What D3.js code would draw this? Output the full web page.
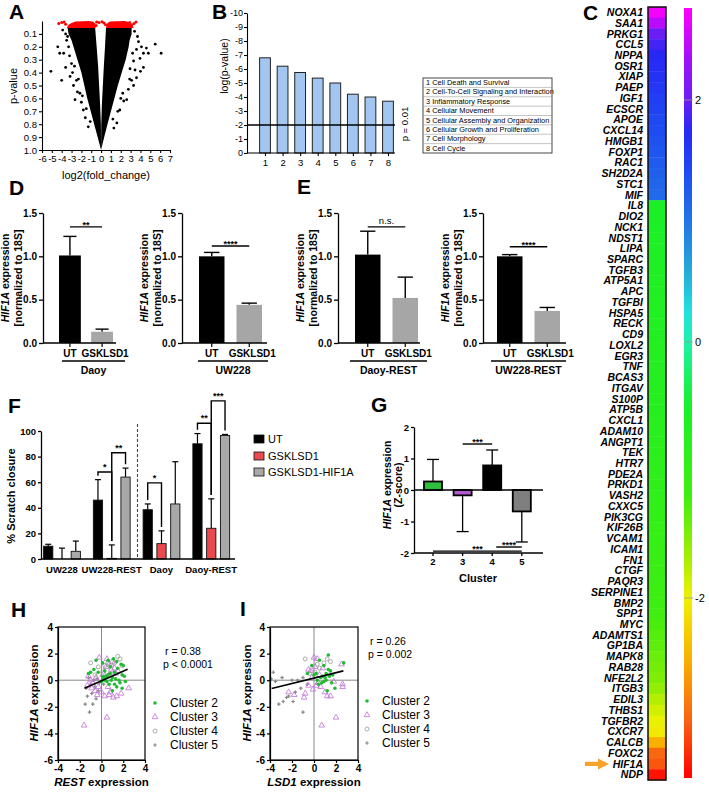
<!DOCTYPE html>
<html><head><meta charset="utf-8">
<script src="https://cdn.jsdelivr.net/npm/d3@7"></script>
<style>body{margin:0;background:#fff}svg{display:block}text{font-family:'Liberation Sans',Arial,Helvetica,sans-serif}</style>
</head><body><svg id="c" width="709" height="792"></svg>
<script>
// ---------------- DATA ----------------
// A: volcano (dense wedge envelopes as [p, log2FC], scattered points as [log2FC, p])
const volcOuterL = [[0.055,-3.4],[0.1,-3.3],[0.15,-3.0],[0.2,-2.8],[0.3,-2.4],[0.4,-2.0],[0.5,-1.7],[0.6,-1.4],[0.7,-1.05],[0.8,-0.7],[0.9,-0.35],[1.0,0]];
const volcInnerL = [[0.055,-0.6],[0.2,-0.45],[0.35,-0.3],[0.5,-0.2],[0.65,-0.1],[0.8,-0.02]];
const volcOuterR = [[0.055,3.1],[0.1,3.1],[0.15,2.9],[0.2,2.8],[0.3,2.5],[0.4,2.1],[0.5,1.7],[0.6,1.35],[0.7,1.0],[0.8,0.65],[0.9,0.32],[1.0,0]];
const volcInnerR = [[0.055,0.5],[0.2,0.4],[0.35,0.28],[0.5,0.18],[0.65,0.08],[0.8,0.02]];
const volcRedL = [[-3.5,0.055],[-3.3,0.03],[-3.0,0.015],[-2.6,0.003],[-1.2,0.0],[-0.8,0.005],[-0.6,0.02],[-0.55,0.055]];
const volcRedR = [[0.5,0.055],[0.6,0.02],[0.9,0.003],[2.4,0.0],[2.8,0.01],[3.2,0.03],[3.3,0.055]];
const volcBlack = [[-5.1,0.39],[-4.4,0.2],[-4.2,0.25],[-4.0,0.46],[-3.8,0.25],[-3.6,0.36],[-3.5,0.15],[-3.3,0.2],[-3.0,0.33],[-3.15,0.43],[-2.8,0.5],[-2.65,0.61],[-2.5,0.46],[-2.15,0.56],[-1.8,0.69],[-3.6,0.1],[-3.2,0.27],[-2.9,0.4],[-2.4,0.55],[-2.0,0.63],[-1.6,0.75],[-1.3,0.82],[-3.9,0.07],[-3.4,0.12],[-2.7,0.35],[-2.3,0.45],[-1.9,0.58],[-1.5,0.68],[-1.1,0.78],
  [5.5,0.18],[6.1,0.25],[4.6,0.21],[4.8,0.25],[4.3,0.25],[3.8,0.16],[3.95,0.29],[3.45,0.38],[3.1,0.46],[2.77,0.53],[2.94,0.37],[2.6,0.61],[2.4,0.1],[3.6,0.22],[3.3,0.31],[4.3,0.36],[4.0,0.39],[1.9,0.69],[1.6,0.79],[3.4,0.08],[3.7,0.12],[4.1,0.2],[3.2,0.25],[2.9,0.45],[2.3,0.62],[2.2,0.56],[1.3,0.83],[3.6,0.44],[3.3,0.5],[2.0,0.6],[1.7,0.7],[1.2,0.76]];
const volcRed = [[-4.3,0.02],[-4.0,0.012],[-3.75,0.008],[-3.6,0.025],[-0.45,0.008],[-0.2,0.012],[0.1,0.006],[0.3,0.015],[3.35,0.02],[3.55,0.008],[-0.5,0.035],[0.45,0.03],[2.9,0.012],[3.1,0.03]];
const aXTicks = [-6,-5,-4,-3,-2,-1,0,1,2,3,4,5,6,7];
const aYTicks = [0.1,0.2,0.3,0.4,0.5,0.6,0.7,0.8,0.9,1.0];

// B
const bCats = [1,2,3,4,5,6,7,8];
const bValues = [6.8,6.2,5.75,5.35,5.0,4.2,4.0,3.7];
const bThreshold = 2;
const bTerms = ['1 Cell Death and Survival','2 Cell-To-Cell Signaling and Interaction','3 Inflammatory Response','4 Cellular Movement','5 Cellular Assembly and Organization','6 Cellular Growth and Proliferation','7 Cell Morphology','8 Cell Cycle'];

// C
const cGenes = ['NOXA1','SAA1','PRKG1','CCL5','NPPA','OSR1','XIAP','PAEP','IGF1','ECSCR','APOE','CXCL14','HMGB1','FOXP1','RAC1','SH2D2A','STC1','MIF',
 'IL8','DIO2','NCK1','NDST1','LIPA','SPARC','TGFB3','ATP5A1','APC','TGFBI','HSPA5','RECK','CD9','LOXL2','EGR3','TNF','BCAS3','ITGAV','S100P',
 'ATP5B','CXCL1','ADAM10','ANGPT1','TEK','HTR7','PDE2A','PRKD1','VASH2','CXXC5','PIK3CG','KIF26B','VCAM1','ICAM1','FN1','CTGF','PAQR3','SERPINE1','BMP2','SPP1',
 'MYC','ADAMTS1','GP1BA','MAPK8','RAB28','NFE2L2','ITGB3','EDIL3','THBS1','TGFBR2','CXCR7','CALCB','FOXC2','HIF1A','NDP'];
const cValues = [2.65,2.4,2.0,1.85,1.75,1.7,1.65,1.6,1.55,1.5,1.45,1.4,1.35,1.3,1.25,1.2,1.15,1.1,
 -0.55,-0.56,-0.57,-0.58,-0.6,-0.6,-0.62,-0.63,-0.64,-0.65,-0.66,-0.67,-0.68,-0.7,-0.71,-0.72,-0.73,-0.74,-0.75,
 -0.77,-0.78,-0.8,-0.82,-0.84,-0.86,-0.88,-0.9,-0.92,-0.95,-0.97,-1.0,-1.02,-1.05,-1.08,-1.1,-1.12,-1.15,-1.18,-1.2,
 -1.25,-1.3,-1.35,-1.4,-1.45,-1.5,-1.6,-1.75,-1.88,-1.97,-2.05,-2.5,-2.95,-3.05,-3.4];
const cMarked = 'HIF1A';
const cmapVals = [2.7,2.3,2.0,1.75,1.4,1.0,0.6,0.25,0,-0.5,-1.2,-1.7,-2.0,-2.5,-3.0,-3.5];
const cmapCols = ['#ff00ff','#a010f8','#6a1ef5','#2828f5','#1e4cf2','#2274e6','#26a8d8','#22e0e0','#20f0a8','#18f028','#40ee10','#a8ee00','#f0f000','#f8b000','#f86010','#ff0000'];
const cbTicks = [2,0,-2];

// D / E
const exprCats = ['UT','GSKLSD1'];
const dDaoy = [1.01,0.13], dDaoyErr = [0.22,0.03];
const dUW228 = [1.0,0.44], dUW228Err = [0.045,0.02];
const eDaoyREST = [1.02,0.52], eDaoyRESTErr = [0.27,0.24];
const eUW228REST = [1.0,0.37], eUW228RESTErr = [0.02,0.04];
const exprTicks = [0,0.5,1.0,1.5];

// F
const fGroups = ['UW228','UW228-REST','Daoy','Daoy-REST'];
const fSeries = ['UT','GSKLSD1','GSKLSD1-HIF1A'];
const fUT = [10,46,38.5,90], fUTErr = [1.5,16,4.5,8];
const fGSK = [0,0.5,12,24], fGSKErr = [8.5,10.5,10,23];
const fHIF = [6,64,43,96.5], fHIFErr = [8,7,33,0.8];
const fSig = [
  {g:'UW228-REST',a:'UT',b:'GSKLSD1',h:68,label:'*'},
  {g:'UW228-REST',a:'GSKLSD1',b:'GSKLSD1-HIF1A',h:83,label:'**'},
  {g:'Daoy',a:'UT',b:'GSKLSD1',h:59.5,label:'*'},
  {g:'Daoy-REST',a:'UT',b:'GSKLSD1',h:106,label:'**'},
  {g:'Daoy-REST',a:'GSKLSD1',b:'GSKLSD1-HIF1A',h:123.5,label:'***'}];
const fTicks = [0,20,40,60,80,100];

// G
const gClusters = ['2','3','4','5'];
const gMeans = [0.27,-0.17,0.78,-0.68];
const gErr = [0.7,1.15,0.49,0.97];
const gSig = [{a:'3',b:'4',y:1.46,label:'***'},{a:'4',b:'5',y:-1.81,label:'****'},{a:'2',b:'5',y:-1.94,label:'***'}];
const gTicks = [-2,-1,0,1,2];

// H / I scatter
const hC2 = [[0.2,0.1],[0.4,0.3],[0.5,0.2],[0.6,0.4],[0.3,0.0],[0.8,0.5],[1.0,0.2],[1.2,0.6],[1.5,0.9],[1.8,1.2],[2.0,1.1],[1.9,0.4],[2.1,0.3],[1.7,-0.2],[1.4,-0.5],[1.0,-0.8],[0.7,-0.3],[0.5,-0.1],[0.9,0.0],[1.3,0.1],[1.6,0.0],[2.2,-0.1],[-0.3,0.6],[-0.7,0.8],[-1.0,0.6],[0.1,1.3],[0.6,1.5],[1.1,1.6],[1.4,1.4],[-0.5,1.5],[0.3,0.7],[0.15,0.25],[0.35,0.15],[0.0,-0.1],[1.2,-0.3],[1.9,-0.6],[0.8,1.0],[-1.2,0.5]];
const hC3 = [[-1.6,-3.4],[0.5,-2.8],[1.4,-1.2],[1.8,-1.0],[2.5,-0.6],[1.1,-1.3],[0.7,-1.1],[0.3,-1.2],[0.0,-0.9],[-0.3,-0.5],[-0.8,-0.2],[-1.0,0.0],[-1.2,0.3],[-0.5,0.2],[0.2,0.5],[0.4,1.0],[0.7,1.2],[0.9,0.8],[1.3,0.5],[1.0,1.4],[0.5,1.6],[-0.2,1.7],[-0.6,-0.8],[-0.4,-1.1],[0.6,-0.5],[0.8,-0.9],[1.2,0.9],[1.5,0.7],[-1.3,-0.4],[-0.9,-0.6]];
const hC4 = [[-1.0,1.3],[0.6,1.3],[1.7,1.6],[1.2,1.3],[0.3,1.1],[-0.3,1.0],[0.9,1.1],[1.9,1.1],[0.1,0.6],[-0.6,0.4],[1.5,1.8],[0.8,0.5]];
const hC5 = [[-1.5,-1.8],[-1.1,-2.4],[-0.8,-1.8],[-1.3,-1.2],[-0.9,-1.0],[-0.6,-0.5],[-1.0,-0.3],[-0.4,0.1],[-0.2,-0.2],[0.0,0.3],[-1.4,-0.6],[-0.7,0.0],[-0.3,-0.8],[0.2,-0.3],[-1.2,0.2],[-0.5,-1.4]];
const hFit = [[-1.56,-0.6],[2.4,0.83]];
const hStats = ['r = 0.38','p < 0.0001'];
const iC2 = [[1.3,1.9],[2.7,1.3],[0.5,1.5],[0.9,1.1],[1.1,0.5],[1.4,0.3],[1.6,-0.2],[1.2,-0.8],[1.9,-0.6],[0.3,0.0],[0.6,0.2],[0.8,0.3],[1.0,0.2],[0.2,0.5],[-0.2,1.1],[-0.6,0.5],[0.7,-0.2],[1.3,0.8],[1.5,0.7],[0.4,-0.3],[1.1,0.0],[1.7,0.4],[0.0,0.4],[0.9,-0.1]];
const iC3 = [[-2.3,-0.9],[-1.8,-1.1],[-0.9,-1.3],[-0.8,-1.0],[-0.5,-0.4],[-0.3,0.7],[-0.5,0.8],[-0.2,0.2],[0.0,1.7],[0.3,1.6],[0.2,-0.4],[0.4,-0.2],[0.7,-3.4],[2.0,-2.8],[1.2,-1.2],[1.5,-1.2],[2.6,-0.5],[2.6,-0.3],[0.8,0.9],[1.0,-0.9],[0.6,-0.5],[-0.1,-0.7],[1.8,-0.1],[2.5,1.2],[0.5,0.4],[0.1,1.0]];
const iC4 = [[-0.8,1.6],[0.1,0.6],[1.2,1.6],[1.5,1.4],[0.5,0.9],[-0.4,0.5],[0.9,1.3],[0.3,1.2]];
const iC5 = [[-3.9,0.1],[-3.7,0.6],[-3.2,-1.8],[-2.8,-1.6],[-2.5,-1.3],[-2.3,-1.2],[-1.9,-1.6],[-1.7,-0.9],[-1.0,-2.4],[-1.2,-0.6],[-2.0,0.0],[-1.5,0.0],[-2.9,0.2],[-1.0,0.2],[-0.6,-0.3],[-3.5,-0.1]];
const iFit = [[-3.85,-0.63],[2.67,0.7]];
const iStats = ['r = 0.26','p = 0.002'];
const scatTicksX = [-4,-2,0,2,4];
const scatTicksY = [-6,-4,-2,0,2,4];
const clusterNames = ['Cluster 2','Cluster 3','Cluster 4','Cluster 5'];

// ---------------- DRAWING ----------------
const FONT = "'Liberation Sans', Arial, Helvetica, sans-serif";
const svg = d3.select('#c');

function txt(g, x, y, s, o = {}) {
  const t = g.append('text').attr('x', x).attr('y', y).attr('font-size', o.size || 10)
    .attr('font-weight', o.bold ? 'bold' : 'normal').attr('text-anchor', o.anchor || 'start')
    .attr('fill', o.fill || '#000');
  if (o.italic) t.attr('font-style', 'italic');
  if (o.rotate) t.attr('transform', `rotate(-90,${x},${y})`);
  if (Array.isArray(s)) s.forEach(([str, it]) => t.append('tspan').attr('font-style', it ? 'italic' : 'normal').text(str));
  else t.text(s);
  return t;
}
function styleAxis(sel, size, bold, sw) {
  sel.attr('font-family', FONT);
  sel.selectAll('text').attr('font-size', size).attr('font-weight', bold ? 'bold' : 'normal').attr('fill', '#000');
  sel.selectAll('path,line').attr('stroke', '#000').attr('stroke-width', sw || 1.1);
}
function letter(x, y, s) { txt(svg, x, y, s, {size: 21, bold: true}); }

// ---- Panel A ----
(function () {
  const g = svg.append('g');
  const x = d3.scaleLinear().domain([-6, 7]).range([42, 170]);
  const y = d3.scaleLinear().domain([0, 1]).range([21, 150]);
  const arm = d3.line().x(d => x(d[1])).y(d => y(d[0]));
  g.append('path').attr('d', arm(volcOuterL.concat(volcInnerL.slice().reverse())) + 'Z').attr('fill', '#000');
  g.append('path').attr('d', arm(volcOuterR.concat(volcInnerR.slice().reverse())) + 'Z').attr('fill', '#000');
  g.selectAll('.vb').data(volcBlack).enter().append('circle').attr('cx', d => x(d[0])).attr('cy', d => y(d[1])).attr('r', 1.4).attr('fill', '#000');
  const cap = d3.line().x(d => x(d[0])).y(d => y(d[1]));
  g.append('path').attr('d', cap(volcRedL) + 'Z').attr('fill', '#f00');
  g.append('path').attr('d', cap(volcRedR) + 'Z').attr('fill', '#f00');
  g.selectAll('.vr').data(volcRed).enter().append('circle').attr('cx', d => x(d[0])).attr('cy', d => y(d[1])).attr('r', 1.5).attr('fill', '#f00');
  const ya = g.append('g').attr('transform', 'translate(42,0)')
    .call(d3.axisLeft(y).tickValues(aYTicks).tickFormat(d3.format('.1f')).tickSize(3).tickSizeOuter(0).tickPadding(2));
  styleAxis(ya, 9.5, false);
  const xa = g.append('g').attr('transform', 'translate(0,150)')
    .call(d3.axisBottom(x).tickValues(aXTicks).tickFormat(d => String(d)).tickSize(3).tickSizeOuter(0).tickPadding(2));
  styleAxis(xa, 9.5, false);
  txt(g, 17, 86, 'p-value', {size: 11, anchor: 'middle', rotate: true});
  txt(g, 106, 179, 'log2(fold_change)', {size: 11, anchor: 'middle'});
  letter(9, 19, 'A');
})();

// ---- Panel B ----
(function () {
  const g = svg.append('g');
  const x = d3.scalePoint().domain(bCats).range([265, 388]);
  const y = d3.scaleLinear().domain([0, 10]).range([153, 13]);
  const bw = 10.8;
  g.selectAll('.bb').data(bValues).enter().append('rect')
    .attr('x', (d, i) => x(bCats[i]) - bw / 2).attr('y', d => y(d)).attr('width', bw).attr('height', d => y(0) - y(d))
    .attr('fill', '#a3c6f0').attr('stroke', '#222').attr('stroke-width', 1);
  const ya = g.append('g').attr('transform', 'translate(247,0)')
    .call(d3.axisLeft(y).tickValues(d3.range(0, 11)).tickFormat(d => d ? '-' + d : '0').tickSize(3).tickSizeOuter(0).tickPadding(1));
  styleAxis(ya, 9, false);
  g.append('line').attr('x1', 247).attr('x2', 395).attr('y1', y(0)).attr('y2', y(0)).attr('stroke', '#000').attr('stroke-width', 1.1);
  const xa = g.append('g').attr('transform', `translate(0,${y(0)})`)
    .call(d3.axisBottom(x).tickSize(3).tickSizeOuter(0).tickPadding(3));
  xa.select('.domain').remove();
  styleAxis(xa, 9.5, false);
  g.append('line').attr('x1', 247).attr('x2', 395).attr('y1', y(bThreshold)).attr('y2', y(bThreshold)).attr('stroke', '#000').attr('stroke-width', 1.5);
  txt(g, 408, 124, 'p = 0.01', {size: 9.5, anchor: 'middle', rotate: true});
  txt(g, 228, 66, 'log(p-value)', {size: 10.5, anchor: 'middle', rotate: true});
  // legend table
  const tx = 423, ty = 78, tw = 129, rh = 75 / bTerms.length;
  g.append('rect').attr('x', tx).attr('y', ty).attr('width', tw).attr('height', rh * bTerms.length).attr('fill', 'none').attr('stroke', '#333').attr('stroke-width', 0.9);
  bTerms.forEach((t, i) => {
    if (i > 0) g.append('line').attr('x1', tx).attr('x2', tx + tw).attr('y1', ty + i * rh).attr('y2', ty + i * rh).attr('stroke', '#888').attr('stroke-width', 0.5);
    txt(g, tx + 3, ty + i * rh + rh - 2.3, t, {size: 7.4});
  });
  letter(212, 19, 'B');
})();

// ---- Panel C ----
(function () {
  const g = svg.append('g');
  const cmap = d3.scaleLinear().domain(cmapVals).range(cmapCols).interpolate(d3.interpolateRgb).clamp(true);
  const rows = d3.scaleBand().domain(cGenes).range([7, 780]);
  g.selectAll('.hm').data(cValues).enter().append('rect')
    .attr('x', 648).attr('width', 18).attr('y', (d, i) => rows(cGenes[i])).attr('height', rows.bandwidth() + 0.4)
    .attr('fill', d => cmap(d));
  g.append('rect').attr('x', 648).attr('y', 7).attr('width', 18).attr('height', 773).attr('fill', 'none').attr('stroke', '#111').attr('stroke-width', 1.5);
  cGenes.forEach((name, i) => {
    txt(g, 643, rows(name) + rows.bandwidth() / 2 + 3.7, name, {size: 10.5, bold: true, italic: true, anchor: 'end'});
  });
  // arrow at marked gene
  const ay = rows(cMarked) + rows.bandwidth() / 2;
  g.append('path').attr('d', `M585,${ay - 2.2}H598V${ay - 5.5}L609,${ay}L598,${ay + 5.5}V${ay + 2.2}H585Z`).attr('fill', '#f5a32a');
  // colorbar
  const cbY = d3.scaleLinear().domain([2.7, 2, 0, -2, -3.45]).range([8, 100, 342, 598, 778]);
  const grad = svg.append('defs').append('linearGradient').attr('id', 'cbg').attr('x1', 0).attr('y1', 0).attr('x2', 0).attr('y2', 1);
  cmapVals.forEach((v, i) => {
    const yy = cbY(Math.max(-3.45, v));
    grad.append('stop').attr('offset', (yy - 8) / 770).attr('stop-color', cmapCols[i]);
  });
  g.append('rect').attr('x', 684).attr('y', 8).attr('width', 8).attr('height', 770).attr('fill', 'url(#cbg)');
  cbTicks.forEach(t => {
    g.append('line').attr('x1', 684).attr('x2', 693).attr('y1', cbY(t)).attr('y2', cbY(t)).attr('stroke', '#999').attr('stroke-width', 0.8);
    txt(g, 695, cbY(t) + 4, String(t), {size: 11});
  });
  letter(583, 20, 'C');
})();

// ---- Panels D / E ----
function exprPanel(c) {
  const g = svg.append('g');
  const y = d3.scaleLinear().domain([0, 1.5]).range([343, 213]);
  const x = d3.scaleBand().domain(exprCats).range(c.range).paddingInner(0.32);
  const bw = x.bandwidth();
  const cols = ['#000', '#a6a6a6'];
  c.vals.forEach((v, i) => {
    const cx = x(exprCats[i]) + bw / 2, top = y(v + c.errs[i]);
    g.append('line').attr('x1', cx).attr('x2', cx).attr('y1', y(v)).attr('y2', top).attr('stroke', '#000').attr('stroke-width', 1.4);
    g.append('line').attr('x1', cx - bw * 0.3).attr('x2', cx + bw * 0.3).attr('y1', top).attr('y2', top).attr('stroke', '#000').attr('stroke-width', 1.4);
    g.append('rect').attr('x', x(exprCats[i])).attr('y', y(v)).attr('width', bw).attr('height', y(0) - y(v)).attr('fill', cols[i]);
  });
  const ya = g.append('g').attr('transform', `translate(${c.axisX},0)`)
    .call(d3.axisLeft(y).tickValues(exprTicks).tickFormat(d3.format('.1f')).tickSize(4).tickSizeOuter(0).tickPadding(2));
  styleAxis(ya, 10, true, 1.3);
  g.append('line').attr('x1', c.axisX).attr('x2', c.axisEnd).attr('y1', y(0)).attr('y2', y(0)).attr('stroke', '#000').attr('stroke-width', 1.3);
  exprCats.forEach(k => {
    const cx = x(k) + bw / 2;
    g.append('line').attr('x1', cx).attr('x2', cx).attr('y1', y(0)).attr('y2', y(0) + 4).attr('stroke', '#000').attr('stroke-width', 1.2);
    txt(g, cx + (k === 'UT' ? 0 : 3), 357, k, {size: 10, bold: true, anchor: 'middle'});
  });
  g.append('line').attr('x1', c.ul[0]).attr('x2', c.ul[1]).attr('y1', 361).attr('y2', 361).attr('stroke', '#000').attr('stroke-width', 1.3);
  txt(g, (c.ul[0] + c.ul[1]) / 2, 374, c.group, {size: 10.5, bold: true, anchor: 'middle'});
  // significance
  const sx1 = x('UT') + bw / 2, sx2 = x('GSKLSD1') + bw / 2, sy = y(c.sigY);
  g.append('line').attr('x1', sx1).attr('x2', sx2).attr('y1', sy).attr('y2', sy).attr('stroke', '#000').attr('stroke-width', 1.4);
  if (c.sig === 'n.s.') txt(g, (sx1 + sx2) / 2, sy - 3, c.sig, {size: 9.5, anchor: 'middle'});
  else txt(g, (sx1 + sx2) / 2, sy + 1, c.sig, {size: 9, bold: true, anchor: 'middle'});
  const cyl = 278;
  txt(g, c.axisX - 34, cyl, [['HIF1A', true], [' expression', false]], {size: 10.5, bold: true, anchor: 'middle', rotate: true});
  txt(g, c.axisX - 21, cyl, '[normalized to 18S]', {size: 10.5, bold: true, anchor: 'middle', rotate: true});
}
exprPanel({axisX: 43, axisEnd: 116, range: [59, 113], ul: [62, 125], group: 'Daoy', vals: dDaoy, errs: dDaoyErr, sig: '**', sigY: 1.34});
exprPanel({axisX: 182, axisEnd: 267, range: [199, 262], ul: [198, 268], group: 'UW228', vals: dUW228, errs: dUW228Err, sig: '****', sigY: 1.12});
exprPanel({axisX: 338, axisEnd: 420, range: [355, 418], ul: [350, 427], group: 'Daoy-REST', vals: eDaoyREST, errs: eDaoyRESTErr, sig: 'n.s.', sigY: 1.34});
exprPanel({axisX: 483, axisEnd: 566, range: [497, 560], ul: [491, 566], group: 'UW228-REST', vals: eUW228REST, errs: eUW228RESTErr, sig: '****', sigY: 1.11});
letter(9, 195, 'D');
letter(297, 194, 'E');

// ---- Panel F ----
(function () {
  const g = svg.append('g');
  const y = d3.scaleLinear().domain([0, 100]).range([559, 431]);
  const gx = d3.scaleBand().domain(fGroups).range([37, 236]);
  const sx = d3.scaleBand().domain(fSeries).range([6.6, 43.4]).paddingInner(0.33);
  const bw = sx.bandwidth();
  const vals = [fUT, fGSK, fHIF], errs = [fUTErr, fGSKErr, fHIFErr];
  const cols = ['#000', '#ea4a4d', '#a8a8a8'];
  const cxOf = (grp, s) => gx(grp) + sx(s) + bw / 2;
  fSeries.forEach((s, si) => {
    fGroups.forEach((grp, gi) => {
      const v = vals[si][gi], e = errs[si][gi], cx = cxOf(grp, s);
      g.append('line').attr('x1', cx).attr('x2', cx).attr('y1', y(v)).attr('y2', y(v + e)).attr('stroke', '#000').attr('stroke-width', 1.2);
      g.append('line').attr('x1', cx - 3).attr('x2', cx + 3).attr('y1', y(v + e)).attr('y2', y(v + e)).attr('stroke', '#000').attr('stroke-width', 1.2);
      if (v > 0) g.append('rect').attr('x', cx - bw / 2).attr('y', y(v)).attr('width', bw).attr('height', y(0) - y(v))
        .attr('fill', cols[si]).attr('stroke', '#111').attr('stroke-width', 0.9);
    });
  });
  // brackets
  fSig.forEach(b => {
    const ia = fSeries.indexOf(b.a), ib = fSeries.indexOf(b.b), gi = fGroups.indexOf(b.g);
    const xa = cxOf(b.g, b.a), xb = cxOf(b.g, b.b);
    const ta = vals[ia][gi] + errs[ia][gi] + 3, tb = vals[ib][gi] + errs[ib][gi] + 3;
    g.append('path').attr('d', `M${xa},${y(ta)}V${y(b.h)}H${xb}V${y(tb)}`).attr('fill', 'none').attr('stroke', '#000').attr('stroke-width', 1.4);
    txt(g, (xa + xb) / 2, y(b.h) - 2, b.label, {size: 9, bold: true, anchor: 'middle'});
  });
  const ya = g.append('g').attr('transform', 'translate(41,0)')
    .call(d3.axisLeft(y).tickValues(fTicks).tickSize(3).tickSizeOuter(0).tickPadding(2));
  styleAxis(ya, 9.5, true, 1.3);
  g.append('line').attr('x1', 41).attr('x2', 235).attr('y1', y(0)).attr('y2', y(0)).attr('stroke', '#000').attr('stroke-width', 1.3);
  const dashX = gx('Daoy');
  g.append('line').attr('x1', dashX + 1).attr('x2', dashX + 1).attr('y1', 424).attr('y2', y(0)).attr('stroke', '#444').attr('stroke-width', 1.1).attr('stroke-dasharray', '3,2');
  fGroups.forEach(grp => txt(g, gx(grp) + gx.bandwidth() / 2, 573, grp, {size: 9.5, bold: true, anchor: 'middle'}));
  txt(g, 15, 496, '% Scratch closure', {size: 11, bold: true, anchor: 'middle', rotate: true});
  // legend
  fSeries.forEach((s, i) => {
    const ly = [439, 456, 472][i];
    g.append('rect').attr('x', 254).attr('y', ly - 4).attr('width', 10).attr('height', 8).attr('fill', cols[i]).attr('stroke', '#111').attr('stroke-width', 0.8);
    txt(g, 268, ly + 4, s, {size: 11});
  });
  letter(8, 413, 'F');
})();

// ---- Panel G ----
(function () {
  const g = svg.append('g');
  const y = d3.scaleLinear().domain([-2, 2]).range([553, 427]);
  const x = d3.scaleBand().domain(gClusters).range([418.2, 536.6]).paddingInner(0.39).paddingOuter(0.195);
  const bw = x.bandwidth();
  const cols = ['#2fbf3e', '#b05ad0', '#000', '#7f7f7f'];
  gMeans.forEach((m, i) => {
    const cx = x(gClusters[i]) + bw / 2, end = m >= 0 ? m + gErr[i] : m - gErr[i];
    g.append('line').attr('x1', cx).attr('x2', cx).attr('y1', y(m)).attr('y2', y(end)).attr('stroke', '#000').attr('stroke-width', 1.3);
    g.append('line').attr('x1', cx - 6).attr('x2', cx + 6).attr('y1', y(end)).attr('y2', y(end)).attr('stroke', '#000').attr('stroke-width', 1.3);
    g.append('rect').attr('x', cx - bw / 2).attr('y', y(Math.max(m, 0))).attr('width', bw).attr('height', Math.abs(y(m) - y(0)))
      .attr('fill', cols[i]).attr('stroke', '#000').attr('stroke-width', 1.8);
  });
  g.append('line').attr('x1', 414).attr('x2', 543).attr('y1', y(0)).attr('y2', y(0)).attr('stroke', '#000').attr('stroke-width', 1.3);
  const ya = g.append('g').attr('transform', 'translate(414,0)')
    .call(d3.axisLeft(y).tickValues(gTicks).tickFormat(d => String(d)).tickSize(3).tickSizeOuter(0).tickPadding(2));
  styleAxis(ya, 9.5, true, 1.3);
  const xa = g.append('g').attr('transform', `translate(0,${y(-2)})`)
    .call(d3.axisBottom(x).tickSize(3).tickSizeOuter(0).tickPadding(2));
  xa.select('.domain').remove();
  styleAxis(xa, 9.5, true, 1.3);
  g.append('line').attr('x1', 414).attr('x2', 543).attr('y1', y(-2)).attr('y2', y(-2)).attr('stroke', '#000').attr('stroke-width', 1.3);
  gSig.forEach(s => {
    const xa1 = x(s.a) + bw / 2 + (s.a === '4' && s.b === '5' ? 4 : 0), xb = x(s.b) + bw / 2;
    g.append('line').attr('x1', xa1).attr('x2', xb).attr('y1', y(s.y)).attr('y2', y(s.y)).attr('stroke', '#000').attr('stroke-width', 1.4);
    txt(g, (xa1 + xb) / 2, y(s.y) + 1, s.label, {size: 9, bold: true, anchor: 'middle'});
  });
  txt(g, 391, 485, [['HIF1A', true], [' expression', false]], {size: 10.5, bold: true, anchor: 'middle', rotate: true});
  txt(g, 402, 485, '(Z-score)', {size: 10.5, bold: true, anchor: 'middle', rotate: true});
  txt(g, 478, 582, 'Cluster', {size: 11, bold: true, anchor: 'middle'});
  letter(371, 412, 'G');
})();

// ---- Panels H / I ----
function marker(g, k, px, py) {
  if (k === 0) g.append('circle').attr('cx', px).attr('cy', py).attr('r', 1.8).attr('fill', '#22bb33');
  else if (k === 1) g.append('path').attr('d', d3.symbol().type(d3.symbolTriangle).size(14)()).attr('transform', `translate(${px},${py})`).attr('fill', 'none').attr('stroke', '#c070d8').attr('stroke-width', 0.8);
  else if (k === 2) g.append('circle').attr('cx', px).attr('cy', py).attr('r', 2).attr('fill', 'none').attr('stroke', '#999').attr('stroke-width', 0.8);
  else g.append('path').attr('d', d3.symbol().type(d3.symbolCross).size(7)()).attr('transform', `translate(${px},${py})`).attr('fill', '#888');
}
function scatterPanel(c) {
  const g = svg.append('g');
  const x = d3.scaleLinear().domain([-4, 4]).range(c.xr);
  const y = d3.scaleLinear().domain([-6, 4]).range([760, 627]);
  g.append('line').attr('x1', x(0)).attr('x2', x(0)).attr('y1', y(-6)).attr('y2', y(4)).attr('stroke', '#888').attr('stroke-width', 1);
  g.append('line').attr('x1', x(-4)).attr('x2', x(4)).attr('y1', y(0)).attr('y2', y(0)).attr('stroke', '#888').attr('stroke-width', 1);
  [3, 1, 2, 0].forEach(k => c.sets[k].forEach(d => marker(g, k, x(d[0]), y(d[1]))));
  g.append('line').attr('x1', x(c.fit[0][0])).attr('y1', y(c.fit[0][1])).attr('x2', x(c.fit[1][0])).attr('y2', y(c.fit[1][1])).attr('stroke', '#000').attr('stroke-width', 1.6);
  g.append('rect').attr('x', x(-4)).attr('y', y(4)).attr('width', x(4) - x(-4)).attr('height', y(-6) - y(4)).attr('fill', 'none').attr('stroke', '#000').attr('stroke-width', 1.2);
  const ya = g.append('g').attr('transform', `translate(${x(-4)},0)`)
    .call(d3.axisLeft(y).tickValues(scatTicksY).tickFormat(d => String(d)).tickSize(3).tickSizeOuter(0).tickPadding(2));
  styleAxis(ya, 10, true, 1.2);
  const xa = g.append('g').attr('transform', `translate(0,${y(-6)})`)
    .call(d3.axisBottom(x).tickValues(scatTicksX).tickFormat(d => String(d)).tickSize(3).tickSizeOuter(0).tickPadding(2));
  styleAxis(xa, 10, true, 1.2);
  txt(g, (c.xr[0] + c.xr[1]) / 2, 786, [[c.xlab, true], [' expression', false]], {size: 11.5, bold: true, anchor: 'middle'});
  txt(g, c.ylx, 693, [['HIF1A', true], [' expression', false]], {size: 11.5, bold: true, anchor: 'middle', rotate: true});
  txt(g, c.stx, c.sty[0], c.stats[0], {size: 10.5});
  txt(g, c.stx - 2, c.sty[1], c.stats[1], {size: 10.5});
  clusterNames.forEach((nm, k) => {
    const ly = c.legY + k * 14;
    marker(g, k, c.legX, ly - 4);
    txt(g, c.legX + 15, ly, nm, {size: 12});
  });
}
scatterPanel({xr: [58, 145], sets: [hC2, hC3, hC4, hC5], fit: hFit, xlab: 'REST', ylx: 38, stats: hStats, stx: 165, sty: [655, 668], legX: 155, legY: 707});
scatterPanel({xr: [270, 358], sets: [iC2, iC3, iC4, iC5], fit: iFit, xlab: 'LSD1', ylx: 251, stats: iStats, stx: 370, sty: [645, 658], legX: 367, legY: 705});
letter(11, 617, 'H');
letter(240, 616, 'I');
</script></body></html>
